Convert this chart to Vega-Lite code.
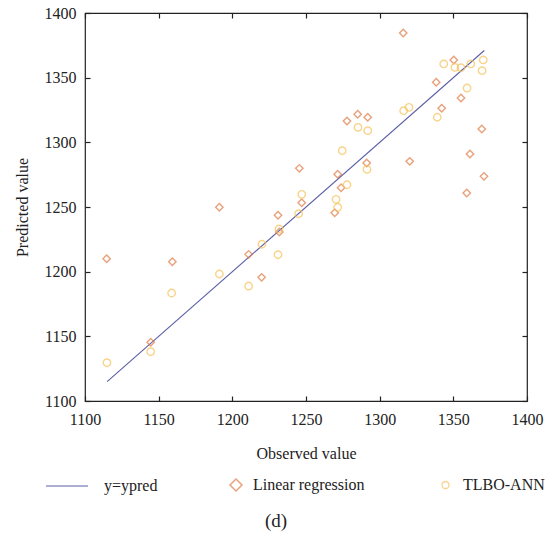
{
  "$schema": "https://vega.github.io/schema/vega-lite/v6.json",
  "width": 442,
  "height": 388,
  "autosize": "none",
  "padding": {"left": 85, "top": 13, "right": 25, "bottom": 136},
  "background": "white",
  "title": {"text": "(d)", "orient": "bottom", "anchor": "middle", "font": "Liberation Serif, DejaVu Serif, serif", "fontSize": 19, "fontWeight": "normal", "color": "#222", "offset": 18, "dx": -30},
  "config": {
    "font": "Liberation Serif, DejaVu Serif, serif",
    "view": {"stroke": "#222", "strokeWidth": 1.2},
    "axis": {
      "grid": false, "domain": false, "tickColor": "#222", "tickSize": -5, "tickWidth": 1.2,
      "labelFont": "Liberation Serif, DejaVu Serif, serif", "labelFontSize": 16, "labelColor": "#222", "labelFlush": false, "labelOverlap": false,
      "titleFont": "Liberation Serif, DejaVu Serif, serif", "titleFontSize": 16, "titleFontWeight": "normal", "titleColor": "#222", "format": "d"
    },
    "legend": {"orient": "none", "direction": "horizontal", "padding": 0, "labelFont": "Liberation Serif, DejaVu Serif, serif", "labelFontSize": 16, "labelColor": "#222"}
  },
  "datasets": {
    "line": [
      {"series": "y=ypred", "observed": 1115, "predicted": 1115},
      {"series": "y=ypred", "observed": 1371, "predicted": 1371}
    ],
    "lr": [
      {"series": "Linear regression", "observed": 1114.7, "predicted": 1210.0},
      {"series": "Linear regression", "observed": 1144.6, "predicted": 1145.4},
      {"series": "Linear regression", "observed": 1159.3, "predicted": 1207.7},
      {"series": "Linear regression", "observed": 1191.2, "predicted": 1249.8},
      {"series": "Linear regression", "observed": 1211.1, "predicted": 1213.4},
      {"series": "Linear regression", "observed": 1219.9, "predicted": 1195.6},
      {"series": "Linear regression", "observed": 1231.0, "predicted": 1243.6},
      {"series": "Linear regression", "observed": 1231.9, "predicted": 1230.7},
      {"series": "Linear regression", "observed": 1245.5, "predicted": 1279.9},
      {"series": "Linear regression", "observed": 1247.1, "predicted": 1253.3},
      {"series": "Linear regression", "observed": 1269.5, "predicted": 1245.6},
      {"series": "Linear regression", "observed": 1271.5, "predicted": 1275.3},
      {"series": "Linear regression", "observed": 1273.8, "predicted": 1264.9},
      {"series": "Linear regression", "observed": 1277.8, "predicted": 1316.5},
      {"series": "Linear regression", "observed": 1285.1, "predicted": 1321.7},
      {"series": "Linear regression", "observed": 1291.9, "predicted": 1319.4},
      {"series": "Linear regression", "observed": 1291.2, "predicted": 1284.0},
      {"series": "Linear regression", "observed": 1316.0, "predicted": 1384.5},
      {"series": "Linear regression", "observed": 1320.4, "predicted": 1285.3},
      {"series": "Linear regression", "observed": 1338.4, "predicted": 1346.4},
      {"series": "Linear regression", "observed": 1342.1, "predicted": 1326.3},
      {"series": "Linear regression", "observed": 1350.3, "predicted": 1363.7},
      {"series": "Linear regression", "observed": 1355.2, "predicted": 1334.3},
      {"series": "Linear regression", "observed": 1359.1, "predicted": 1260.8},
      {"series": "Linear regression", "observed": 1361.3, "predicted": 1291.0},
      {"series": "Linear regression", "observed": 1369.3, "predicted": 1310.3},
      {"series": "Linear regression", "observed": 1370.8, "predicted": 1273.7}
    ],
    "ann": [
      {"series": "TLBO-ANN", "observed": 1114.9, "predicted": 1129.6},
      {"series": "TLBO-ANN", "observed": 1144.6, "predicted": 1138.1},
      {"series": "TLBO-ANN", "observed": 1158.8, "predicted": 1183.5},
      {"series": "TLBO-ANN", "observed": 1191.2, "predicted": 1198.2},
      {"series": "TLBO-ANN", "observed": 1211.1, "predicted": 1188.9},
      {"series": "TLBO-ANN", "observed": 1220.1, "predicted": 1221.2},
      {"series": "TLBO-ANN", "observed": 1231.0, "predicted": 1213.1},
      {"series": "TLBO-ANN", "observed": 1231.7, "predicted": 1233.0},
      {"series": "TLBO-ANN", "observed": 1245.0, "predicted": 1244.8},
      {"series": "TLBO-ANN", "observed": 1247.1, "predicted": 1259.8},
      {"series": "TLBO-ANN", "observed": 1270.4, "predicted": 1255.9},
      {"series": "TLBO-ANN", "observed": 1271.5, "predicted": 1249.8},
      {"series": "TLBO-ANN", "observed": 1274.6, "predicted": 1293.5},
      {"series": "TLBO-ANN", "observed": 1277.8, "predicted": 1267.2},
      {"series": "TLBO-ANN", "observed": 1285.3, "predicted": 1311.6},
      {"series": "TLBO-ANN", "observed": 1291.9, "predicted": 1309.0},
      {"series": "TLBO-ANN", "observed": 1291.4, "predicted": 1279.1},
      {"series": "TLBO-ANN", "observed": 1316.3, "predicted": 1324.5},
      {"series": "TLBO-ANN", "observed": 1319.9, "predicted": 1327.1},
      {"series": "TLBO-ANN", "observed": 1339.1, "predicted": 1319.4},
      {"series": "TLBO-ANN", "observed": 1343.5, "predicted": 1360.6},
      {"series": "TLBO-ANN", "observed": 1351.1, "predicted": 1358.0},
      {"series": "TLBO-ANN", "observed": 1355.2, "predicted": 1357.7},
      {"series": "TLBO-ANN", "observed": 1361.8, "predicted": 1360.6},
      {"series": "TLBO-ANN", "observed": 1359.3, "predicted": 1342.0},
      {"series": "TLBO-ANN", "observed": 1370.3, "predicted": 1363.7},
      {"series": "TLBO-ANN", "observed": 1369.5, "predicted": 1355.4}
    ]
  },
  "resolve": {
    "scale": {"color": "independent"},
    "axis": {"x": "independent", "y": "independent"}
  },
  "layer": [
    {
      "data": {"name": "line"},
      "mark": {"type": "line", "strokeWidth": 1.1},
      "encoding": {
        "x": {"field": "observed", "type": "quantitative", "scale": {"domain": [1100, 1400], "nice": false, "zero": false},
              "axis": {"orient": "bottom", "values": [1100, 1150, 1200, 1250, 1300, 1350, 1400], "title": "Observed value", "labelPadding": 15, "titlePadding": 18}},
        "y": {"field": "predicted", "type": "quantitative", "scale": {"domain": [1100, 1400], "nice": false, "zero": false},
              "axis": {"orient": "left", "values": [1100, 1150, 1200, 1250, 1300, 1350, 1400], "title": "Predicted value", "labelPadding": 14, "titlePadding": 14}},
        "color": {"field": "series", "type": "nominal", "scale": {"domain": ["y=ypred"], "range": ["#5b5ea6"]},
                  "legend": {"title": null, "legendX": -40, "legendY": 451, "symbolType": "stroke", "symbolSize": 1764, "symbolStrokeWidth": 1.2, "labelOffset": 15}}
      }
    },
    {
      "data": {"name": "lr"},
      "mark": {"type": "point", "shape": "diamond", "filled": false, "size": 55, "strokeWidth": 1.4},
      "encoding": {
        "x": {"field": "observed", "type": "quantitative",
              "axis": {"orient": "top", "values": [1100, 1150, 1200, 1250, 1300, 1350, 1400], "labels": false, "title": null}},
        "y": {"field": "predicted", "type": "quantitative",
              "axis": {"orient": "right", "values": [1100, 1150, 1200, 1250, 1300, 1350, 1400], "labels": false, "title": null}},
        "color": {"field": "series", "type": "nominal", "scale": {"domain": ["Linear regression"], "range": ["#e07b45"]},
                  "legend": {"title": null, "legendX": 143, "legendY": 464, "symbolType": "diamond", "symbolSize": 144, "symbolStrokeWidth": 1.5, "symbolFillColor": "transparent", "labelOffset": 9}}
      }
    },
    {
      "data": {"name": "ann"},
      "mark": {"type": "point", "shape": "circle", "filled": false, "size": 55, "strokeWidth": 1.4},
      "encoding": {
        "x": {"field": "observed", "type": "quantitative", "axis": null},
        "y": {"field": "predicted", "type": "quantitative", "axis": null},
        "color": {"field": "series", "type": "nominal", "scale": {"domain": ["TLBO-ANN"], "range": ["#f6c35a"]},
                  "legend": {"title": null, "legendX": 352.5, "legendY": 464, "symbolType": "circle", "symbolSize": 49, "symbolStrokeWidth": 1.3, "symbolFillColor": "transparent", "labelOffset": 9.5}}
      }
    }
  ]
}
